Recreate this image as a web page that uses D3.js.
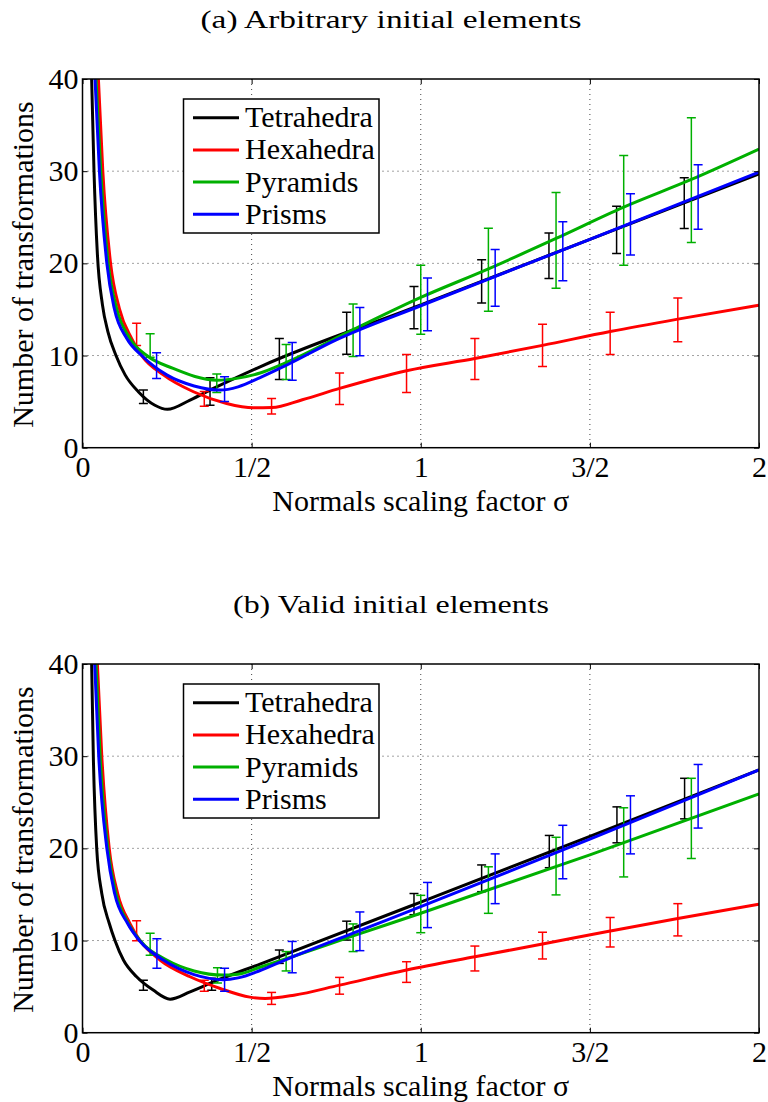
<!DOCTYPE html>
<html>
<head>
<meta charset="utf-8">
<script src="https://cdn.jsdelivr.net/npm/d3@7"></script>
<style>
  body { margin: 0; background: #fff; }
  svg { display: block; }
  text { font-family: "Liberation Serif", "Times New Roman", serif; fill: #000; }
</style>
</head>
<body>
<div class="graph"></div>
<script>

// ---- data ----
var seriesNames = ["Tetrahedra", "Hexahedra", "Pyramids", "Prisms"];
var seriesColors = ["#000000", "#ff0000", "#00b000", "#0000ff"];
var panelTitles = ["(a) Arbitrary initial elements", "(b) Valid initial elements"];
var xTickValues = [0, 0.5, 1, 1.5, 2];
var xTickLabels = ["0", "1/2", "1", "3/2", "2"];
var yTickValues = [0, 10, 20, 30, 40];
var xLabel = "Normals scaling factor \u03c3";
var yLabel = "Number of transformations";

// panel (a) curves
var aTetX = [0.027, 0.034, 0.044, 0.059, 0.075, 0.099, 0.126, 0.165, 0.214, 0.251, 0.318, 0.387, 0.525, 1.0, 1.5, 2.0];
var aTetY = [40, 30, 21, 15.5, 12.6, 10, 7.9, 6.07, 4.6, 4.16, 5.17, 6.43, 8.78, 15.5, 22.6, 29.7];
var aHexX = [0.047, 0.06, 0.083, 0.109, 0.145, 0.175, 0.239, 0.328, 0.426, 0.505, 0.56, 0.65, 0.76, 0.958, 1.16, 1.36, 1.56, 1.76, 2.0];
var aHexY = [40, 30, 20, 15.1, 11.85, 10, 7.9, 6.07, 4.8, 4.33, 4.35, 5.2, 6.43, 8.35, 9.68, 11.1, 12.6, 13.95, 15.46];
var aPyrX = [0.04, 0.054, 0.076, 0.101, 0.14, 0.19, 0.268, 0.397, 0.46, 0.525, 0.6, 0.8, 1.0, 1.2, 1.4, 1.6, 1.8, 2.0];
var aPyrY = [40, 30, 20, 15.1, 11.85, 10, 8.6, 7.33, 7.55, 8.1, 9.2, 12.8, 16.3, 19.4, 22.7, 26.1, 29.1, 32.4];
var aPriX = [0.037, 0.05, 0.072, 0.094, 0.131, 0.175, 0.249, 0.33, 0.407, 0.46, 0.525, 0.6, 0.75, 1.0, 1.5, 2.0];
var aPriY = [40, 30, 20, 15.1, 11.85, 10, 7.9, 6.7, 6.25, 6.6, 7.6, 8.9, 11.7, 15.4, 22.6, 29.9];

// panel (a) error bars
var aTetBarX = [0.18, 0.377, 0.582, 0.781, 0.98, 1.18, 1.379, 1.579, 1.779];
var aTetBarLo = [4.8, 4.6, 7.4, 10.15, 12.9, 15.7, 18.35, 21.06, 23.77];
var aTetBarHi = [6.26, 7.6, 11.85, 14.7, 17.5, 20.4, 23.3, 26.2, 29.3];
var aHexBarX = [0.16, 0.36, 0.559, 0.76, 0.958, 1.16, 1.36, 1.56, 1.76];
var aHexBarLo = [11.1, 4.5, 3.65, 4.7, 6.0, 7.4, 8.8, 10.1, 11.5];
var aHexBarHi = [13.5, 6.1, 5.35, 8.1, 10.1, 11.85, 13.4, 14.7, 16.25];
var aPyrBarX = [0.2, 0.397, 0.602, 0.8, 1.0, 1.2, 1.4, 1.6, 1.8];
var aPyrBarLo = [9.8, 6.0, 7.4, 9.9, 12.3, 14.8, 17.3, 19.8, 22.25];
var aPyrBarHi = [12.35, 8.0, 11.2, 15.6, 19.8, 23.8, 27.7, 31.7, 35.8];
var aPriBarX = [0.219, 0.42, 0.62, 0.82, 1.02, 1.22, 1.42, 1.62, 1.82];
var aPriBarLo = [7.5, 5.0, 7.33, 9.97, 12.7, 15.35, 18.1, 20.9, 23.7];
var aPriBarHi = [10.3, 7.7, 11.4, 15.2, 18.4, 21.5, 24.5, 27.55, 30.7];

// panel (b) curves
var bTetX = [0.027, 0.032, 0.042, 0.057, 0.079, 0.096, 0.121, 0.16, 0.209, 0.259, 0.318, 0.387, 0.525, 1.0, 1.5, 2.0];
var bTetY = [40, 30, 20, 15.1, 11.87, 10, 7.88, 6.07, 4.62, 3.64, 4.43, 5.52, 7.45, 14.17, 21.3, 28.5];
var bHexX = [0.044, 0.057, 0.079, 0.104, 0.14, 0.17, 0.229, 0.318, 0.407, 0.495, 0.54, 0.625, 0.76, 0.958, 1.16, 1.36, 1.56, 1.76, 2.0];
var bHexY = [40, 30, 20, 15.1, 11.87, 10, 7.88, 6.07, 4.8, 3.86, 3.72, 4.07, 5.16, 6.8, 8.24, 9.62, 11.03, 12.4, 13.93];
var bPyrX = [0.04, 0.052, 0.075, 0.099, 0.135, 0.17, 0.249, 0.33, 0.416, 0.46, 0.525, 0.6, 0.8, 1.0, 1.5, 2.0];
var bPyrY = [40, 30, 20, 15.1, 11.87, 10, 7.88, 6.7, 6.25, 6.35, 7.1, 8.0, 10.5, 12.96, 19.3, 25.9];
var bPriX = [0.036, 0.048, 0.072, 0.095, 0.133, 0.168, 0.239, 0.33, 0.416, 0.46, 0.525, 0.6, 0.8, 1.0, 1.5, 2.0];
var bPriY = [40, 30, 20, 15.1, 11.87, 10, 7.88, 6.3, 5.75, 5.95, 6.75, 7.9, 10.8, 13.67, 21.0, 28.5];

// panel (b) error bars
var bTetBarX = [0.18, 0.382, 0.582, 0.781, 0.98, 1.18, 1.38, 1.58, 1.78];
var bTetBarLo = [4.6, 4.6, 7.52, 10.05, 12.8, 15.3, 17.9, 20.6, 23.2];
var bTetBarHi = [5.7, 5.9, 8.97, 12.1, 15.1, 18.2, 21.4, 24.5, 27.6];
var bHexBarX = [0.16, 0.36, 0.559, 0.76, 0.958, 1.16, 1.36, 1.56, 1.76];
var bHexBarLo = [9.98, 4.5, 3.07, 4.18, 5.46, 6.7, 8.0, 9.3, 10.5];
var bHexBarHi = [12.15, 5.7, 4.37, 6.0, 7.7, 9.4, 10.9, 12.5, 14.0];
var bPyrBarX = [0.2, 0.399, 0.602, 0.8, 1.0, 1.2, 1.4, 1.6, 1.8];
var bPyrBarLo = [8.4, 5.4, 6.7, 8.8, 10.85, 12.95, 14.95, 16.9, 18.9];
var bPyrBarHi = [10.8, 7.05, 8.8, 11.8, 14.9, 18.0, 21.2, 24.4, 27.6];
var bPriBarX = [0.22, 0.42, 0.62, 0.82, 1.02, 1.22, 1.42, 1.62, 1.82];
var bPriBarLo = [7.0, 4.5, 6.5, 8.9, 11.4, 14.0, 16.7, 19.4, 22.2];
var bPriBarHi = [10.2, 7.0, 9.9, 13.1, 16.3, 19.4, 22.5, 25.7, 29.1];

// ---- build tables ----
function zip(xs, ys) { return xs.map(function (d, i) { return {x: d, y: ys[i]}; }); }
function bars(xs, lo, hi) { return xs.map(function (d, i) { return {x: d, lo: lo[i], hi: hi[i]}; }); }

var panels = [
  {
    title: panelTitles[0], titleWidth: 381,
    curves: [zip(aTetX, aTetY), zip(aHexX, aHexY), zip(aPyrX, aPyrY), zip(aPriX, aPriY)],
    bars: [bars(aTetBarX, aTetBarLo, aTetBarHi), bars(aHexBarX, aHexBarLo, aHexBarHi),
           bars(aPyrBarX, aPyrBarLo, aPyrBarHi), bars(aPriBarX, aPriBarLo, aPriBarHi)]
  },
  {
    title: panelTitles[1], titleWidth: 316,
    curves: [zip(bTetX, bTetY), zip(bHexX, bHexY), zip(bPyrX, bPyrY), zip(bPriX, bPriY)],
    bars: [bars(bTetBarX, bTetBarLo, bTetBarHi), bars(bHexBarX, bHexBarLo, bHexBarHi),
           bars(bPyrBarX, bPyrBarLo, bPyrBarHi), bars(bPriBarX, bPriBarLo, bPriBarHi)]
  }
];

var width = 768;
var height = 1102;
var plotLeft = 82.5, plotRight = 759, plotH = 368.7;
var panelTops = [79, 664];

var svg = d3.select(".graph").append("svg")
  .attr("width", width)
  .attr("height", height);

function drawPanel(panel, idx) {
  var top = panelTops[idx];
  var bottom = top + plotH;

  var x = d3.scaleLinear().domain([0, 2]).range([plotLeft, plotRight]);
  var y = d3.scaleLinear().domain([0, 40]).range([bottom, top]);

  var g = svg.append("g");

  // title (caption set wider than the axis text)
  g.append("text")
    .attr("x", 391)
    .attr("y", top - 51)
    .attr("text-anchor", "middle")
    .attr("font-size", 25)
    .attr("textLength", panel.titleWidth)
    .attr("lengthAdjust", "spacingAndGlyphs")
    .text(panel.title);

  // grid
  var grid = g.append("g").attr("stroke", "#444").attr("stroke-width", 1)
    .attr("stroke-dasharray", "1,4");
  grid.selectAll(".gx").data(xTickValues.slice(1, -1)).enter().append("line")
    .attr("x1", d => x(d)).attr("x2", d => x(d))
    .attr("y1", top).attr("y2", bottom);
  grid.selectAll(".gy").data(yTickValues.slice(1, -1)).enter().append("line")
    .attr("x1", plotLeft).attr("x2", plotRight)
    .attr("y1", d => y(d)).attr("y2", d => y(d));

  // curves + error bars
  var clipId = "clip" + idx;
  svg.append("clipPath").attr("id", clipId).append("rect")
    .attr("x", plotLeft).attr("y", top)
    .attr("width", plotRight - plotLeft).attr("height", plotH);

  var line = d3.line()
    .x(d => x(d.x))
    .y(d => y(d.y))
    .curve(d3.curveMonotoneX);

  var data = g.append("g").attr("clip-path", "url(#" + clipId + ")");
  var cap = 4.5;
  panel.curves.forEach(function (c, i) {
    data.append("path")
      .datum(c)
      .attr("fill", "none")
      .attr("stroke", seriesColors[i])
      .attr("stroke-width", 3)
      .attr("stroke-linejoin", "round")
      .attr("d", line);

    var eb = data.append("g").attr("stroke", seriesColors[i]).attr("stroke-width", 1.5);
    panel.bars[i].forEach(function (b) {
      eb.append("line").attr("x1", x(b.x)).attr("x2", x(b.x)).attr("y1", y(b.lo)).attr("y2", y(b.hi));
      eb.append("line").attr("x1", x(b.x) - cap).attr("x2", x(b.x) + cap).attr("y1", y(b.lo)).attr("y2", y(b.lo));
      eb.append("line").attr("x1", x(b.x) - cap).attr("x2", x(b.x) + cap).attr("y1", y(b.hi)).attr("y2", y(b.hi));
    });
  });

  // axes (inward ticks on all four sides)
  var xAxis = d3.axisBottom(x).tickValues(xTickValues)
    .tickFormat((d, i) => xTickLabels[i]).tickSizeInner(-5).tickSizeOuter(0).tickPadding(8);
  var xAxisGroup = g.append("g").attr("transform", "translate(0," + bottom + ")");
  xAxis(xAxisGroup);
  var yAxis = d3.axisLeft(y).tickValues(yTickValues).tickSizeInner(-5).tickSizeOuter(0).tickPadding(4);
  var yAxisGroup = g.append("g").attr("transform", "translate(" + plotLeft + ",0)");
  yAxis(yAxisGroup);
  var xTop = d3.axisTop(x).tickValues(xTickValues).tickFormat("").tickSizeInner(-5).tickSizeOuter(0);
  xTop(g.append("g").attr("transform", "translate(0," + top + ")"));
  var yRight = d3.axisRight(y).tickValues(yTickValues).tickFormat("").tickSizeInner(-5).tickSizeOuter(0);
  yRight(g.append("g").attr("transform", "translate(" + plotRight + ",0)"));

  g.selectAll(".domain").remove();
  g.selectAll(".tick line").attr("stroke", "#000").attr("stroke-width", 1);
  g.selectAll(".tick text")
    .attr("font-family", "Liberation Serif, serif")
    .attr("font-size", 30);

  g.append("rect")
    .attr("x", plotLeft).attr("y", top)
    .attr("width", plotRight - plotLeft).attr("height", plotH)
    .attr("fill", "none").attr("stroke", "#000").attr("stroke-width", 1.5);

  // axis labels
  g.append("text")
    .attr("x", (plotLeft + plotRight) / 2)
    .attr("y", bottom + 63)
    .attr("text-anchor", "middle")
    .attr("font-size", 30)
    .text(xLabel);

  g.append("text")
    .attr("transform", "translate(33," + (top + 185.5) + ") rotate(-90)")
    .attr("text-anchor", "middle")
    .attr("font-size", 30)
    .text(yLabel);

  // legend
  var lg = g.append("g");
  lg.append("rect")
    .attr("x", 183.5).attr("y", top + 20)
    .attr("width", 195.5).attr("height", 134)
    .attr("fill", "#fff").attr("stroke", "#000").attr("stroke-width", 1.5);
  seriesNames.forEach(function (name, i) {
    var ry = top + 38.7 + i * 32.2;
    lg.append("line")
      .attr("x1", 193).attr("x2", 239).attr("y1", ry).attr("y2", ry)
      .attr("stroke", seriesColors[i]).attr("stroke-width", 3);
    lg.append("text")
      .attr("x", 245).attr("y", ry + 9.5)
      .attr("font-size", 30)
      .text(name);
  });
}

panels.forEach(drawPanel);

</script>
</body>
</html>
